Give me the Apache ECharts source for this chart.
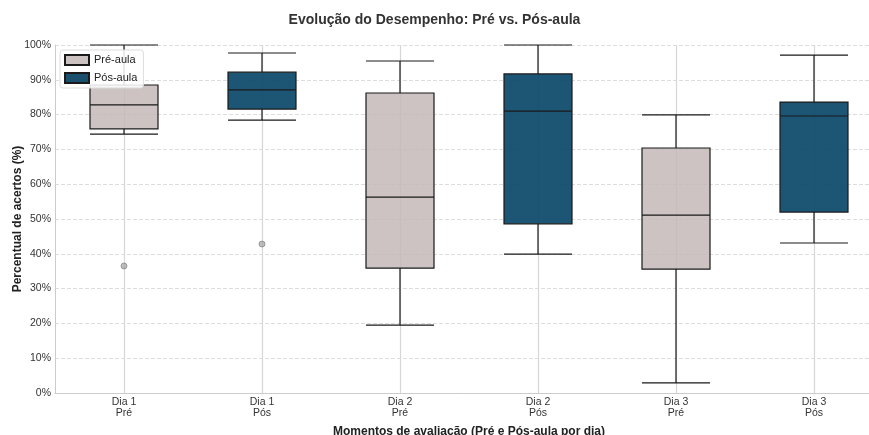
<!DOCTYPE html>
<html><head><meta charset="utf-8">
<script src="https://cdn.jsdelivr.net/npm/echarts@6/dist/echarts.min.js"></script>
<style>html,body{margin:0;padding:0;background:#fff}#c{width:869px;height:435px}</style>
</head><body><div id="c"></div>
<script>
const categories = ['Dia 1\nPré','Dia 1\nPós','Dia 2\nPré','Dia 2\nPós','Dia 3\nPré','Dia 3\nPós'];
const groups = ['Pré','Pós','Pré','Pós','Pré','Pós'];
// [min, Q1, median, Q3, max]
const boxValues = [
  [74.4, 75.9, 82.8, 88.5, 100],
  [78.4, 81.6, 87.1, 92.2, 97.7],
  [19.5, 35.9, 56.3, 86.2, 95.4],
  [39.9, 48.6, 81.0, 91.7, 100],
  [2.9, 35.6, 51.1, 70.4, 79.9],
  [43.1, 52.0, 79.6, 83.6, 97.1]
];
const outliers = [[0, 36.5], [1, 42.8]];

const preColor = 'rgba(196,184,184,0.85)';
const posColor = 'rgba(10,70,104,0.92)';
const edge = '#1a1a1a';
const font = 'Liberation Sans, Arial, sans-serif';

const chart = echarts.init(document.getElementById('c'), null, {renderer:'canvas'});
const boxData = boxValues.map((v,i)=>({
  value: v,
  itemStyle: {color: groups[i]==='Pré'?preColor:posColor, borderColor: edge, borderWidth: 1.2}
}));
chart.setOption({
  animation:false,
  backgroundColor:'#fff',
  title:{text:'Evolução do Desempenho: Pré vs. Pós-aula', left:'center', top:8,
    textStyle:{fontFamily:font, fontSize:14, fontWeight:'bold', color:'#333'}},
  legend:{
    data:[{name:'Pré-aula', icon:'rect'},{name:'Pós-aula', icon:'rect'}],
    orient:'vertical', left:60, top:50, itemWidth:24, itemHeight:10, itemGap:6,
    backgroundColor:'rgba(255,255,255,0.85)', borderColor:'#ddd', borderWidth:1, borderRadius:3, padding:[4,6,4,4],
    textStyle:{fontFamily:font, fontSize:11, color:'#222'}
  },
  grid:{left:55, top:45, width:828, height:348, outerBoundsMode:'none', containLabel:false},
  xAxis:{
    type:'category', data:categories, boundaryGap:true,
    name:'Momentos de avaliação (Pré e Pós-aula por dia)', nameLocation:'middle', nameGap:33, nameMoveOverlap:false,
    nameTextStyle:{fontFamily:font, fontSize:12, fontWeight:'bold', color:'#222'},
    axisLine:{show:true, lineStyle:{color:'#ccc', width:1}},
    axisTick:{show:false},
    axisLabel:{fontFamily:font, fontSize:10.5, color:'#333', lineHeight:11, margin:4},
    splitLine:{show:false}
  },
  yAxis:{
    type:'value', min:0, max:100, interval:10,
    name:'Percentual de acertos (%)', nameLocation:'middle', nameGap:31, nameMoveOverlap:false,
    nameTextStyle:{fontFamily:font, fontSize:12, fontWeight:'bold', color:'#222'},
    axisLine:{show:true, lineStyle:{color:'#ccc', width:1}},
    axisTick:{show:false},
    axisLabel:{formatter:'{value}%', fontFamily:font, fontSize:10.5, color:'#333', margin:4},
    splitLine:{show:true, lineStyle:{color:'#ddd', type:[4,2], width:1}}
  },
  series:[
    {type:'line', name:'Vgrid', data:[], silent:true, z:0,
      markLine:{symbol:'none', silent:true, z:0, label:{show:false},
        lineStyle:{color:'#d6d6d6', type:'solid', width:1.2},
        data: categories.map(c=>({xAxis:c}))}},
    {type:'boxplot', name:'box', data:boxData, boxWidth:[68,68], z:3,
      itemStyle:{borderColor:edge, borderWidth:1.2}},
    {type:'scatter', name:'out', data:outliers, symbolSize:6, z:4,
      itemStyle:{color:'rgba(160,160,160,0.85)', borderColor:'#777', borderWidth:0.8}},
    {type:'bar', name:'Pré-aula', data:[], itemStyle:{color:'rgb(204,194,194)', borderColor:edge, borderWidth:1}},
    {type:'bar', name:'Pós-aula', data:[], itemStyle:{color:'rgb(26,80,110)', borderColor:edge, borderWidth:1}}
  ]
});
</script></body></html>
